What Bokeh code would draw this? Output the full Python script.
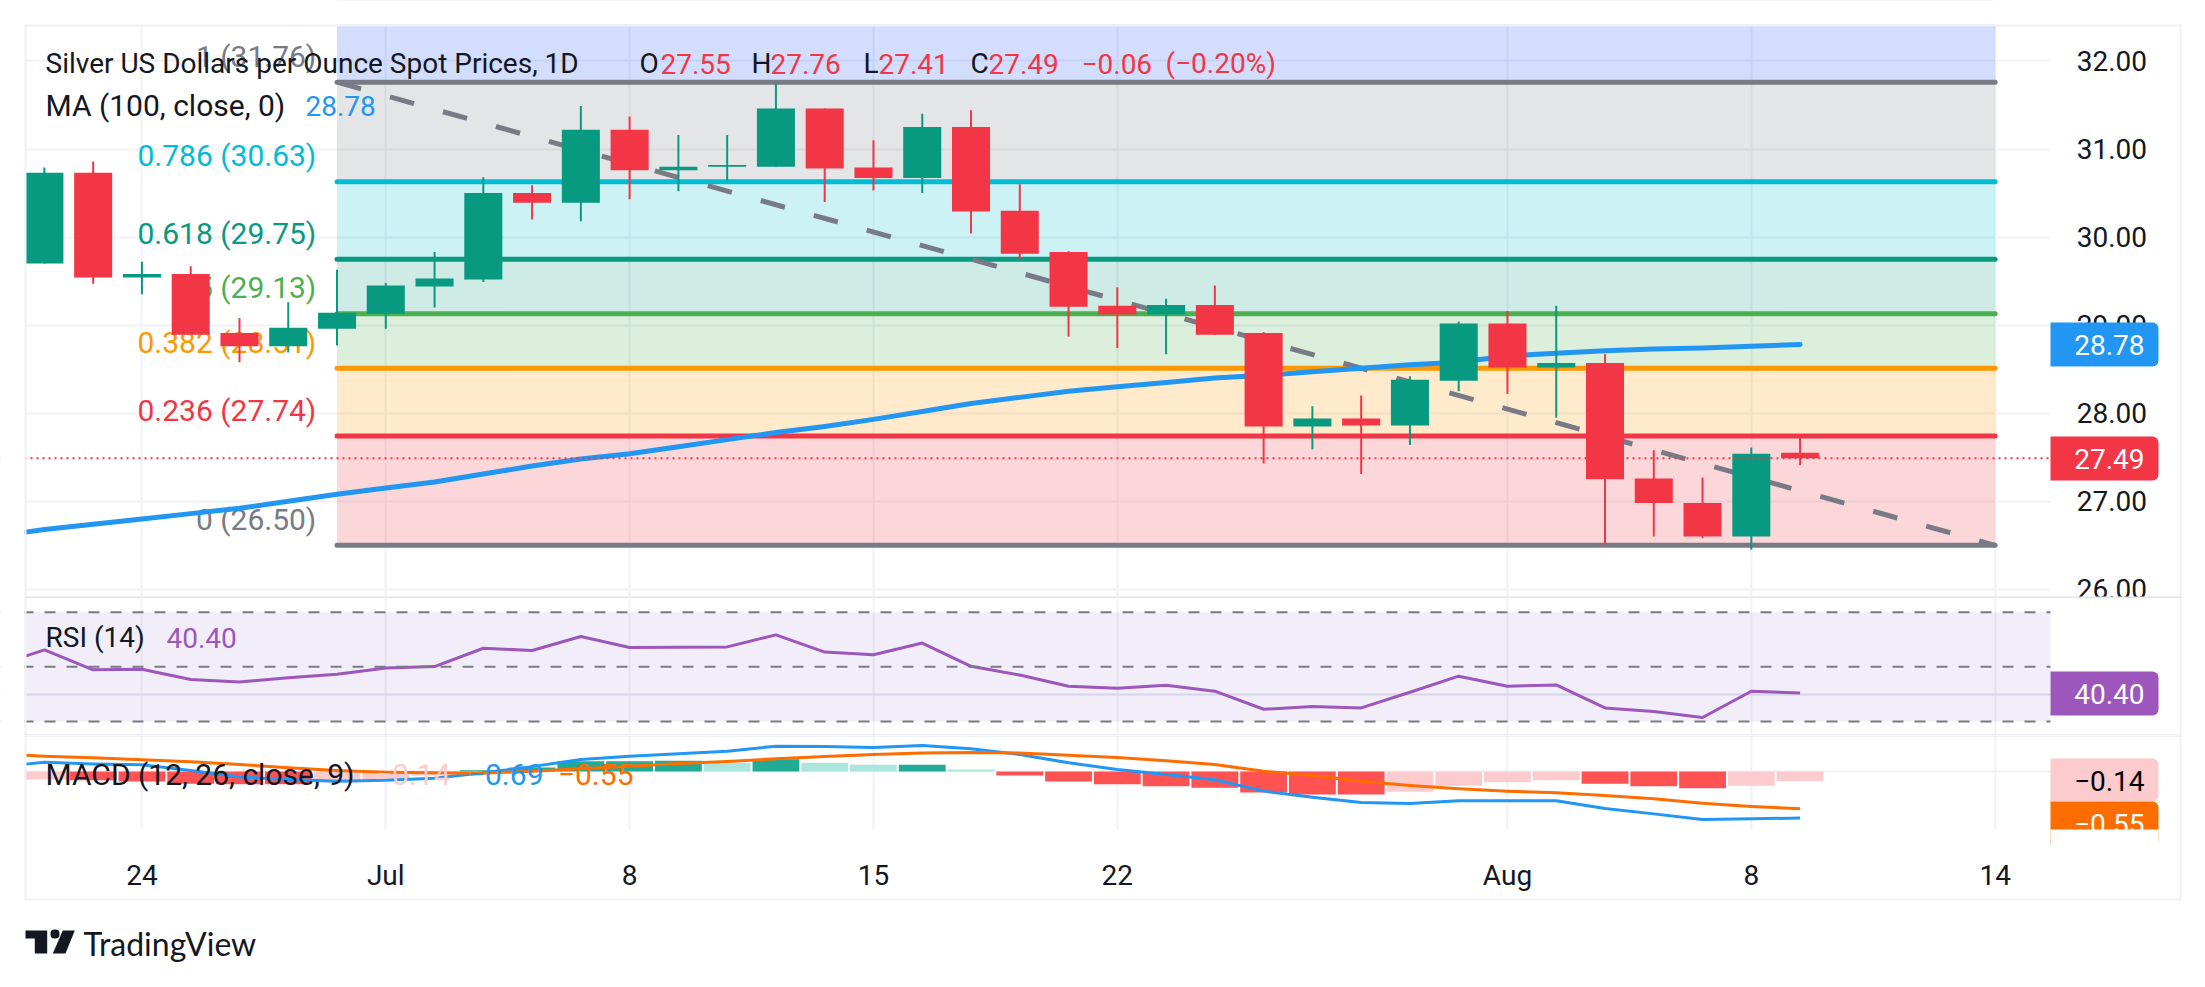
from bokeh.plotting import figure
from bokeh.layouts import column
from bokeh.embed import file_html
from bokeh.resources import INLINE
from bokeh.models import (Range1d, LinearAxis, FixedTicker, Grid, Span, Label, BoxAnnotation,
                          PolyAnnotation, PrintfTickFormatter)
from bokeh.core.properties import value

# ---------- data ----------
opens = [29.70,30.73,29.54,29.58,28.91,28.76,28.96,29.13,29.44,29.52,30.50,30.39,31.22,30.76,30.80,30.80,31.46,30.79,30.67,31.25,30.30,29.83,29.22,29.12,29.23,28.91,27.85,27.94,27.86,28.37,29.02,28.52,28.57,27.26,26.98,26.60,27.55]
highs = [30.79,30.86,29.72,29.67,29.08,29.26,29.63,29.48,29.83,30.68,30.59,31.49,31.37,31.16,31.16,31.75,31.46,31.10,31.40,31.44,30.60,29.84,29.43,29.30,29.45,28.92,28.08,28.20,28.42,29.04,29.16,29.22,28.67,27.58,27.27,27.61,27.76]
lows = [29.70,29.47,29.35,28.89,28.58,28.69,28.77,28.96,29.20,29.49,30.20,30.18,30.43,30.52,30.64,30.80,30.40,30.53,30.50,30.04,29.75,28.87,28.74,28.67,28.89,27.43,27.59,27.31,27.64,28.25,28.22,27.95,26.51,26.60,26.58,26.45,27.41]
closes = [30.73,29.54,29.58,28.89,28.76,28.97,29.14,29.45,29.53,30.50,30.39,31.22,30.76,30.80,30.82,31.46,30.78,30.67,31.25,30.29,29.81,29.21,29.12,29.23,28.89,27.85,27.94,27.86,28.38,29.02,28.52,28.57,27.25,26.98,26.60,27.54,27.49]
# the first value of each line is the one read at the pane's left edge
ma100 = [26.65,26.68,26.74,26.80,26.86,26.92,27.00,27.08,27.15,27.22,27.31,27.40,27.48,27.54,27.62,27.70,27.78,27.85,27.93,28.02,28.11,28.18,28.25,28.30,28.35,28.40,28.43,28.47,28.51,28.55,28.58,28.65,28.68,28.71,28.73,28.74,28.76,28.78]
rsi = [53.9,56.2,48.9,49.1,45.4,44.5,46.0,47.3,49.6,50.1,56.8,56.0,61.1,57.1,57.2,57.3,61.7,55.4,54.4,58.7,50.2,47.0,42.9,42.2,43.3,41.1,34.5,35.5,35.0,40.7,46.6,42.9,43.4,35.0,33.7,31.5,41.1,40.4]
macd = [0.109,0.138,0.112,0.099,0.014,-0.082,-0.119,-0.143,-0.129,-0.099,-0.02,0.072,0.178,0.227,0.262,0.301,0.375,0.370,0.356,0.385,0.336,0.251,0.129,0.031,-0.044,-0.123,-0.291,-0.380,-0.459,-0.474,-0.434,-0.434,-0.434,-0.548,-0.628,-0.711,-0.701,-0.69]
signal = [0.242,0.227,0.202,0.173,0.143,0.104,0.054,0.015,-0.01,-0.02,-0.025,0.005,0.04,0.079,0.119,0.148,0.188,0.222,0.252,0.272,0.281,0.272,0.242,0.207,0.158,0.104,0.005,-0.059,-0.143,-0.207,-0.257,-0.291,-0.316,-0.356,-0.405,-0.469,-0.519,-0.553]
hist_before = -0.13
hist = [-0.12,-0.13,-0.15,-0.18,-0.19,-0.19,-0.16,-0.13,-0.06,0.02,0.06,0.15,0.15,0.16,0.13,0.18,0.13,0.10,0.10,0.03,-0.06,-0.15,-0.19,-0.22,-0.24,-0.31,-0.34,-0.34,-0.30,-0.21,-0.16,-0.13,-0.18,-0.22,-0.25,-0.21,-0.14]
fib_ratios = ["1","0.786","0.618","0.5","0.382","0.236","0"]
fib_prices = [31.76,30.63,29.75,29.13,28.51,27.74,26.50]
fib_upper = 33.79
fib_start, fib_end = 6, 40
price_ticks = [26,27,28,29,30,31,32]
date_ticks = [2,7,12,17,22,30,35,40]
date_labels = ["24","Jul","8","15","22","Aug","8","14"]
last_close, ma_last, rsi_last, hist_last, sig_last, macd_last = 27.49, 28.78, 40.40, -0.14, -0.55, -0.69

# ---------- style ----------
FONT = "Roboto"
FS = "28px"
FS_L = "30px"
INK = "#131722"
UP, DOWN = "#089981", "#F23645"
GRID = "#f1f2f5"
SEP = "#e0e3eb"
EDGE = "#eff1f4"
FIB_COL = ["#787B86","#00BCD4","#089981","#4CAF50","#FF9800","#F23645","#787B86"]
BAND_COL = ["#2157F3","#787B86","#00BCD4","#089981","#4CAF50","#FF9800","#F23645"]
PURPLE = "#9C56BC"
BLUE, ORANGE = "#2196F3", "#FF6D00"

X_PANE_START, X_PANE_END = -0.3875, 41.12
idx = list(range(len(closes)))
idx_ext = [X_PANE_START] + idx
# the frame fills each canvas, so that tags and the logo beside the panes are not clipped to it
x_range = Range1d(-0.9002, 44.149)

def make(height, y_range):
    p = figure(width=2197, height=height, x_range=x_range, y_range=y_range,
               x_axis_location=None, y_axis_location=None, toolbar_location=None,
               output_backend="svg", min_border_left=0, min_border_right=0,
               min_border_top=0, min_border_bottom=0,
               outline_line_color=None, background_fill_color="white",
               border_fill_color="white")
    p.grid.visible = False
    return p

def vgrid(p):
    p.add_layout(Grid(dimension=0, ticker=FixedTicker(ticks=date_ticks), grid_line_color=GRID, grid_line_width=2))

def box(p, oy, l, r, t, b, color, level="overlay", **kw):
    a = BoxAnnotation(left=l, right=r, top=t-oy, bottom=b-oy, left_units="canvas", right_units="canvas",
                      top_units="canvas", bottom_units="canvas", fill_color=color, fill_alpha=1.0,
                      line_color=None, level=level, **kw)
    p.add_layout(a)
    return a

def mask(p, oy, l, r, t, b):
    box(p, oy, l, r, t, b, "white", level="annotation")

def label(p, oy, x, y, text, color=INK, align="left", size=FS, font=FONT):
    p.add_layout(Label(x=x, y=y-oy, x_units="canvas", y_units="canvas", text=text, text_color=color,
                       text_font=font, text_font_size=size, text_baseline="middle", text_align=align,
                       level="overlay"))

def frame_edges(p, oy, t, b):
    box(p, oy, 24, 26, t, b, EDGE)
    box(p, oy, 2179, 2181, t, b, EDGE)

# ---------- main pane ----------
OY_A = 0
pa = make(598, Range1d(25.896, 32.687))
vgrid(pa)
pa.add_layout(Grid(dimension=1, ticker=FixedTicker(ticks=price_ticks), grid_line_color=GRID, grid_line_width=2))
axis = LinearAxis(ticker=FixedTicker(ticks=price_ticks), formatter=PrintfTickFormatter(format="%.2f"),
                  fixed_location=X_PANE_END, level="overlay",
                  axis_line_color=None, major_tick_line_color=None, minor_tick_line_color=None,
                  major_label_standoff=21, major_label_text_font=FONT, major_label_text_font_size=FS,
                  major_label_text_color=INK)
pa.add_layout(axis, "right")

tops = [fib_upper] + fib_prices[:-1]
pa.quad(left=[fib_start]*7, right=[fib_end]*7, top=tops, bottom=fib_prices, fill_color=BAND_COL, fill_alpha=0.2, line_color=None)
pa.segment(x0=[fib_start]*7, x1=[fib_end]*7, y0=fib_prices, y1=fib_prices, line_color=FIB_COL, line_width=5, line_cap="round")
pa.text(x=[fib_start]*7, y=fib_prices, text=[f"{r} ({v:.2f})" for r, v in zip(fib_ratios, fib_prices)],
        text_color=FIB_COL, text_font=value(FONT), text_font_size=FS_L, text_align="right", text_baseline="middle",
        x_offset=-20.7, y_offset=-26)
pa.line(x=[fib_start, fib_end], y=[fib_prices[0], fib_prices[-1]], line_color="#787B86", line_width=5, line_dash="25 30")
pa.line(x=idx_ext, y=ma100, line_color=BLUE, line_width=5, line_cap="round", line_join="round")
cols = [UP if c >= o else DOWN for o, c in zip(opens, closes)]
pa.segment(x0=idx, x1=idx, y0=lows, y1=highs, line_color=cols, line_width=2)
pa.vbar(x=idx, width=0.78, top=[max(o, c) for o, c in zip(opens, closes)], bottom=[min(o, c) for o, c in zip(opens, closes)],
        fill_color=cols, line_color=None)
pa.add_layout(Span(location=last_close, dimension="width", line_color=DOWN, line_width=2, line_dash="2 4"))
mask(pa, OY_A, -6, 24, -6, 604)
mask(pa, OY_A, 2050, 2205, -6, 604)
mask(pa, OY_A, -6, 2205, -6, 24)

# price tags
box(pa, OY_A, 2050, 2158, 322, 366, BLUE, border_radius=(0, 6, 6, 0))
label(pa, OY_A, 2144, 344, f"{ma_last:.2f}", "white", "right")
box(pa, OY_A, 2050, 2158, 436, 480, DOWN, border_radius=(0, 6, 6, 0))
label(pa, OY_A, 2144, 458, f"{last_close:.2f}", "white", "right")

# header legend
y1 = 63
for x, t, c in [(45, "Silver US Dollars per Ounce Spot Prices, 1D", INK), (639, "O", INK), (660, "27.55", DOWN),
                (751, "H", INK), (770, "27.76", DOWN), (863, "L", INK), (878, "27.41", DOWN), (970, "C", INK),
                (988, "27.49", DOWN), (1081, "\u22120.06", DOWN), (1165, "(\u22120.20%)", DOWN)]:
    label(pa, OY_A, x, y1, t, c)
label(pa, OY_A, 45, 105, "MA (100, close, 0)", INK, size=FS_L)
label(pa, OY_A, 305, 105, f"{ma_last:.2f}", BLUE)

box(pa, OY_A, 24, 2181, 24, 26, EDGE)
frame_edges(pa, OY_A, 24, 597)
box(pa, OY_A, 24, 2181, 596, 598, SEP)

# ---------- RSI pane ----------
OY_B = 598
pb = make(137, Range1d(24.9, 75.0))
vgrid(pb)
pb.add_layout(Grid(dimension=1, ticker=FixedTicker(ticks=[40]), grid_line_color=SEP, grid_line_width=2))
pb.add_layout(BoxAnnotation(bottom=30, top=70, fill_color="#7E57C2", fill_alpha=0.1, line_color=None, level="underlay"))
for lvl in (70, 50, 30):
    pb.add_layout(Span(location=lvl, dimension="width", line_color="#787B86", line_width=2, line_dash="11 11"))
pb.line(x=idx_ext, y=rsi, line_color=PURPLE, line_width=3, line_join="round")
mask(pb, OY_B, -6, 24, 590, 740)
mask(pb, OY_B, 2050, 2205, 590, 740)
label(pb, OY_B, 45, 637, "RSI (14)")
label(pb, OY_B, 166, 637, f"{rsi_last:.2f}", PURPLE)
box(pb, OY_B, 2050, 2158, 671, 715, PURPLE, border_radius=(0, 6, 6, 0))
label(pb, OY_B, 2144, 693, f"{rsi_last:.2f}", "white", "right")
frame_edges(pb, OY_B, 598, 735)
box(pb, OY_B, 24, 2181, 734, 735, SEP)

# ---------- MACD pane ----------
OY_C = 735
pc = make(245, Range1d(-3.096, 0.533))
vgrid(pc)
pc.add_layout(Grid(dimension=1, ticker=FixedTicker(ticks=[0]), grid_line_color=GRID, grid_line_width=2))
xaxis = LinearAxis(ticker=FixedTicker(ticks=date_ticks), fixed_location=-0.859, level="overlay",
                   major_label_overrides={t: s for t, s in zip(date_ticks, date_labels)},
                   axis_line_color=None, major_tick_line_color=None, minor_tick_line_color=None,
                   major_label_standoff=24, major_label_text_font=FONT, major_label_text_font_size=FS,
                   major_label_text_color=INK)
pc.add_layout(xaxis, "below")
hist_col = []
for i, v in enumerate(hist):
    prev = hist[i-1] if i else hist_before
    if v >= 0:
        hist_col.append("#22AB94" if v >= prev else "#ACE5DC")
    else:
        hist_col.append("#FF5252" if v <= prev else "#FCCBCD")
pc.vbar(x=idx, width=0.96, top=[max(v, 0) for v in hist], bottom=[min(v, 0) for v in hist], fill_color=hist_col, line_color=None)
pc.line(x=idx_ext, y=macd, line_color=BLUE, line_width=3, line_join="round")
pc.line(x=idx_ext, y=signal, line_color=ORANGE, line_width=3, line_join="round")
mask(pc, OY_C, -6, 24, 729, 986)
mask(pc, OY_C, 2050, 2205, 729, 986)
mask(pc, OY_C, -6, 2205, 829, 986)
label(pc, OY_C, 45, 774, "MACD (12, 26, close, 9)", size=FS_L)
label(pc, OY_C, 450, 774, "\u22120.14", "#FCCBCD", "right", FS_L)
label(pc, OY_C, 543, 774, "\u22120.69", BLUE, "right", FS_L)
label(pc, OY_C, 633, 774, "\u22120.55", ORANGE, "right", FS_L)
box(pc, OY_C, 2050, 2158, 758, 801, "#FCCBCD", border_radius=(0, 6, 6, 0))
label(pc, OY_C, 2144, 780, f"\u2212{abs(hist_last):.2f}", "#000000", "right")
box(pc, OY_C, 2050, 2158, 801, 845, ORANGE, border_radius=(0, 6, 6, 0))
label(pc, OY_C, 2144, 823, f"\u2212{abs(sig_last):.2f}", "white", "right")
box(pc, OY_C, 2050, 2158, 829, 846, "white")
frame_edges(pc, OY_C, 735, 899)
box(pc, OY_C, 24, 2181, 898, 900, EDGE)
box(pc, OY_C, 24, 2181, 735, 736, SEP)

# TradingView logo
pc.add_layout(PolyAnnotation(xs=[25, 46.7, 46.7, 34.3, 34.3, 25], ys=[195, 195, 218, 218, 203, 203],
                             xs_units="canvas", ys_units="canvas", fill_color=INK, fill_alpha=1, line_color=None, level="overlay"))
pc.add_layout(PolyAnnotation(xs=[62.3, 74.3, 65, 52.3], ys=[195, 195, 218, 218],
                             xs_units="canvas", ys_units="canvas", fill_color=INK, fill_alpha=1, line_color=None, level="overlay"))
box(pc, OY_C, 50, 59, 929, 938, INK, border_radius=4)
label(pc, OY_C, 83, 943, "TradingView", INK, "left", "32px", "Lato")

page = column(pa, pb, pc, spacing=0)
open("out.html", "w").write(file_html(page, INLINE))
